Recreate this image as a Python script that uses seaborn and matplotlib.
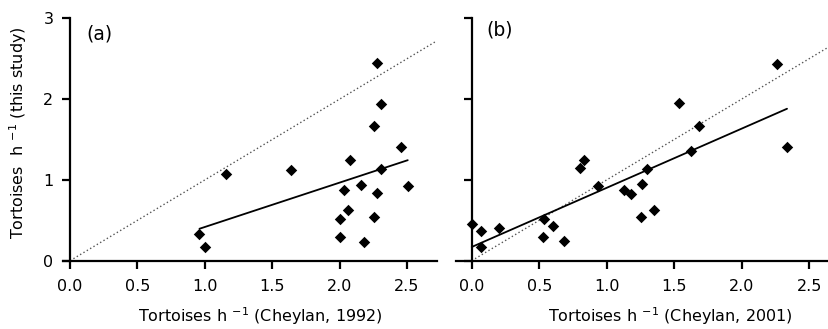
import matplotlib
matplotlib.use("Agg")
import matplotlib.pyplot as plt
import seaborn as sns
import numpy as np
import pandas as pd

# Panel (a): Cheylan 1992 vs this study
a_x = [0.96, 1.00, 1.157, 1.637, 2.077, 2.035, 2.156, 2.06, 2.005, 2.005,
       2.18, 2.255, 2.28, 2.307, 2.258, 2.307, 2.28, 2.455, 2.505]
a_y = [0.33, 0.165, 1.07, 1.12, 1.25, 0.876, 0.94, 0.63, 0.517, 0.29,
       0.227, 0.545, 0.835, 1.13, 1.67, 1.94, 2.45, 1.41, 0.925]

# Panel (b): Cheylan 2001 vs this study
b_x = [0.0, 0.067, 0.067, 0.2, 0.536, 0.531, 0.6, 0.686, 0.805, 0.83, 0.938,
       1.128, 1.178, 1.259, 1.296, 1.254, 1.353, 1.538, 1.622, 1.686, 2.259, 2.336]
b_y = [0.455, 0.368, 0.174, 0.40, 0.517, 0.29, 0.43, 0.24, 1.153, 1.248, 0.93,
       0.876, 0.822, 0.946, 1.136, 0.545, 0.632, 1.946, 1.355, 1.661, 2.434, 1.413]

x_ticks = [0.0, 0.5, 1.0, 1.5, 2.0, 2.5]
y_ticks = [0, 1, 2, 3]
panel_labels = ["(a)", "(b)"]
x_labels = [r"Tortoises h $^{-1}$ (Cheylan, 1992)",
            r"Tortoises h $^{-1}$ (Cheylan, 2001)"]
y_label = r"Tortoises  h $^{-1}$ (this study)"

sns.set_style("ticks")
plt.rcParams['font.family'] = ['DejaVu Sans']
for k in ['text.color', 'axes.labelcolor', 'xtick.color', 'ytick.color',
          'axes.edgecolor']:
    plt.rcParams[k] = 'black'

fig = plt.figure(figsize=(8.29, 3.29), dpi=100)
ax_a = fig.add_axes([0.0764, 0.2076, 0.4504, 0.7368])
ax_b = fig.add_axes([0.5495, 0.2076, 0.4510, 0.7368])

datasets = [(ax_a, a_x, a_y, (-0.05, 2.72), 0.527, (0.12, 2.81)),
            (ax_b, b_x, b_y, (-0.12, 2.65), 0.574, (0.11, 2.85))]
for i, (ax, xs, ys, xl, xlab_x, ppos) in enumerate(datasets):
    df = pd.DataFrame({"x": xs, "y": ys})
    # identity line
    ax.plot([0, xl[1]], [0, xl[1]], color="#555555", lw=1.0,
            linestyle=(0, (1, 1.8)), zorder=1)
    sns.regplot(data=df, x="x", y="y", ax=ax, ci=None, scatter=False,
                color="black", line_kws=dict(lw=1.3), truncate=True)
    sns.scatterplot(data=df, x="x", y="y", ax=ax, marker="D", s=34,
                    color="black", edgecolor="black", linewidth=0, zorder=3)
    ax.set_xlim(*xl)
    ax.set_ylim(0, 3)
    ax.set_xticks(x_ticks)
    ax.set_xticklabels([f"{t:.1f}" for t in x_ticks])
    ax.set_yticks(y_ticks)
    ax.spines['left'].set_position(('data', 0))
    ax.spines['top'].set_visible(False)
    ax.spines['right'].set_visible(False)
    for s in ['left', 'bottom']:
        ax.spines[s].set_linewidth(1.6)
    ax.tick_params(axis='x', direction='out', length=5.5, width=1.6,
                   labelsize=11.5, pad=7.5)
    ax.tick_params(axis='y', direction='out', length=5.5, width=1.6,
                   labelsize=11.5, pad=6.5)
    ax.set_xlabel(x_labels[i], fontsize=11.5)
    ax.xaxis.set_label_coords(xlab_x, -0.185)
    ax.text(ppos[0], ppos[1], panel_labels[i], fontsize=13.5,
            va='center', ha='left')
    if i == 0:
        ax.set_ylabel(y_label, fontsize=11.5)
        ax.yaxis.set_label_coords(-0.092, 0.53)
    else:
        ax.set_ylabel("")
        ax.tick_params(axis='y', labelleft=False)

fig.savefig("out.png", dpi=100)
